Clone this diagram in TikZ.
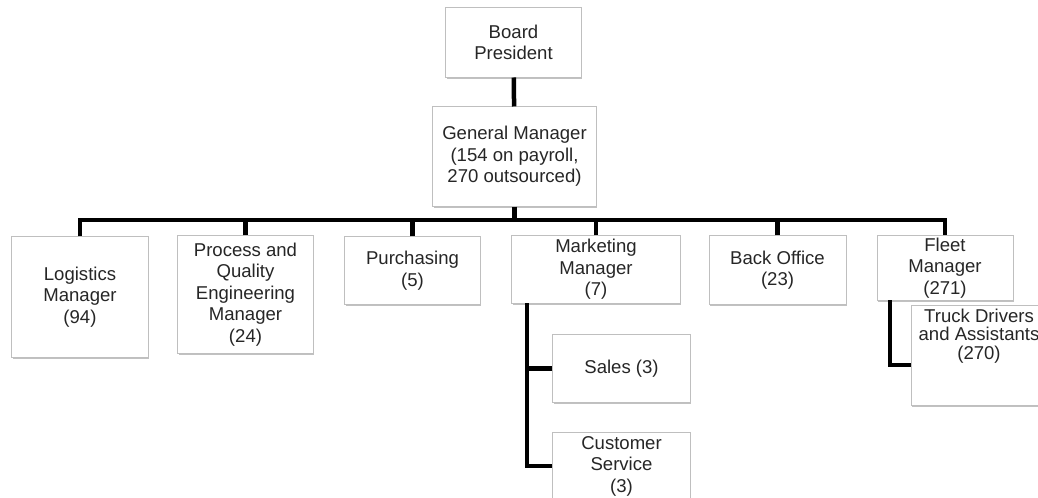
\documentclass[tikz,border=0pt]{standalone}
\usepackage{fontspec}
\setmainfont{Liberation Sans}
\usetikzlibrary{shadows}
\newcommand{\orgfont}{\fontsize{13.2}{15.3}\selectfont}
\begin{document}
\begin{tikzpicture}[x=0.025cm, y=-0.025cm,
    unit/.style={draw=gray!50, line width=0.7pt, fill=white, align=center,
        inner sep=1pt, font=\orgfont, text=black!85,
        drop shadow={shadow xshift=0.8pt, shadow yshift=-1.3pt, fill=gray!70, opacity=0.7}},
    link/.style={line width=3.2pt}]
    \useasboundingbox (0,0) rectangle (1038,498);
    % Vertici
    \node[unit, minimum width=3.375cm, minimum height=1.725cm] (board) at (513.5,42.5) {Board\\President};
    \node[unit, minimum width=4.075cm, minimum height=2.475cm] (gm) at (514.5,156.5) {General Manager\\(154 on payroll,\\270 outsourced)};
    % Primo livello
    \node[unit, minimum width=3.4cm, minimum height=3cm] (logistics) at (80,297) {Logistics\\Manager\\(94)};
    \node[unit, minimum width=3.375cm, minimum height=2.925cm] (process) at (245.5,294.5) {Process and\\Quality\\Engineering\\Manager\\(24)};
    \node[unit, minimum width=3.375cm, minimum height=1.675cm] (purchasing) at (412.5,270.5) {Purchasing\\(5)};
    \node[unit, minimum width=4.2cm, minimum height=1.675cm] (marketing) at (596,269.5) {Marketing\\Manager\\(7)};
    \node[unit, minimum width=3.425cm, minimum height=1.7cm] (backoffice) at (777.5,270) {Back Office\\(23)};
    \node[unit, minimum width=3.4cm, minimum height=1.6cm] (fleet) at (945,268) {Fleet\\Manager\\(271)};
    % Secondo livello
    \node[unit, minimum width=3.425cm, minimum height=1.675cm] (sales) at (621.5,368.5) {Sales (3)};
    \node[unit, minimum width=3.425cm, minimum height=1.7cm] (customer) at (621.5,466) {Customer\\Service\\(3)};
    \node[unit, minimum width=3.4cm, minimum height=2.475cm] (truck) at (979,355.5) {};
    \node[align=center, inner sep=0pt, font=\fontsize{13.2}{13}\selectfont, text=black!85] (trucktext) at (979,336) {Truck Drivers\\and Assistants\\(270)};
    % Collegamenti
    \coordinate (bus) at (513,220);
    \coordinate (mktrunk) at (527,303);
    \coordinate (fltrunk) at (890,300);
    \coordinate (trbranch) at (911,365);
    \draw[link] (board) -- (gm);
    \draw[link] (gm.south) -- (gm.south |- bus);
    \draw[link] (logistics.north) -- (logistics.north |- bus) -- (fleet.north |- bus) -- (fleet.north);
    \draw[link] (process.north) -- (process.north |- bus);
    \draw[link] (purchasing.north) -- (purchasing.north |- bus);
    \draw[link] (marketing.north) -- (marketing.north |- bus);
    \draw[link] (backoffice.north) -- (backoffice.north |- bus);
    \draw[link] (mktrunk) |- (customer.west);
    \draw[link] (sales.west) -- (sales.west -| mktrunk);
    \draw[link] (fltrunk) |- (trbranch);
\end{tikzpicture}
\end{document}
